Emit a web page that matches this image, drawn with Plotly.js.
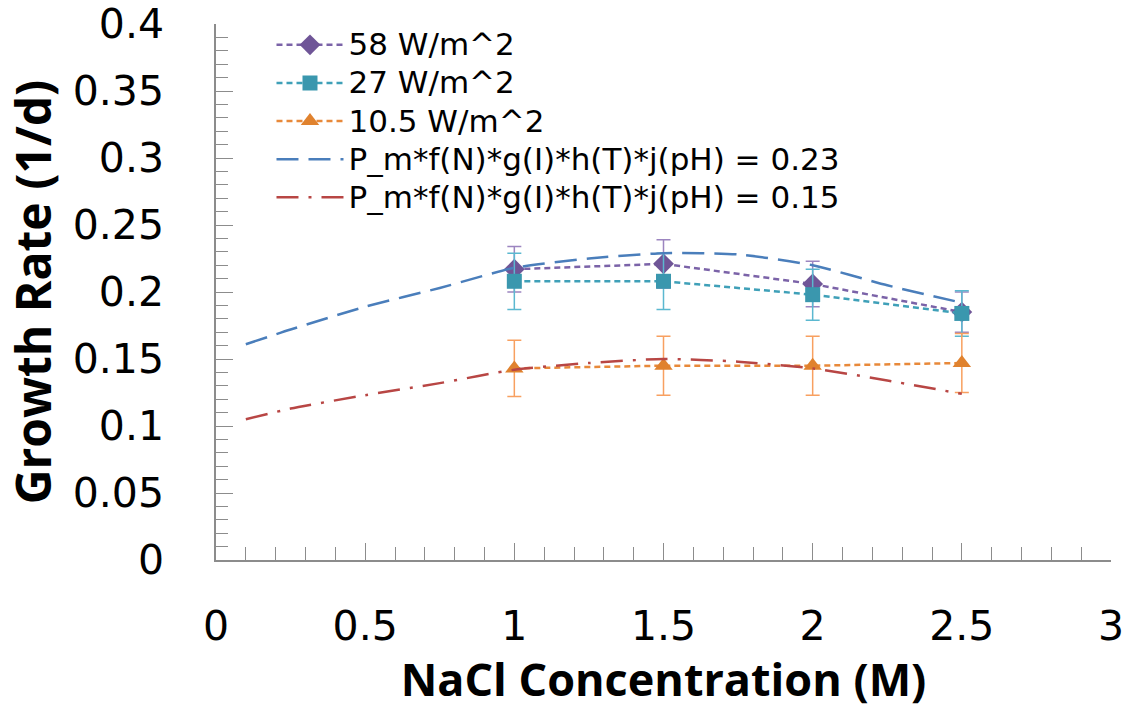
<!DOCTYPE html>
<html>
<head>
<meta charset="utf-8">
<script src="https://cdn.plot.ly/plotly-3.0.1.min.js"></script>
<style>html,body{margin:0;padding:0;background:#fff;}#chart{width:1128px;height:709px;}</style>
</head>
<body>
<div id="chart"></div>
<script>
// Measured data
const nacl = [1, 1.5, 2, 2.5];
const rate58 = [0.217, 0.221, 0.206, 0.185];
const err58 = [0.017, 0.018, 0.017, 0.015];
const rate27 = [0.208, 0.208, 0.198, 0.184];
const err27 = [0.021, 0.021, 0.019, 0.017];
const rate105 = [0.143, 0.145, 0.145, 0.147];
const err105 = [0.021, 0.022, 0.022, 0.022];

// Model curves
const modelX = [0.1, 0.25, 0.5, 0.75, 1.0, 1.25, 1.5, 1.75, 2.0, 2.25, 2.5];
const modelHigh = [0.161, 0.172, 0.189, 0.203, 0.218, 0.225, 0.229, 0.228, 0.220, 0.205, 0.192];
const modelLow = [0.105, 0.113, 0.123, 0.132, 0.142, 0.147, 0.150, 0.148, 0.143, 0.134, 0.124];

const names = ["58 W/m^2", "27 W/m^2", "10.5 W/m^2",
  "P_m*f(N)*g(I)*h(T)*j(pH) = 0.23", "P_m*f(N)*g(I)*h(T)*j(pH) = 0.15"];

const xTicks = [0, 0.5, 1, 1.5, 2, 2.5, 3];
const xTickText = ["0", "0.5", "1", "1.5", "2", "2.5", "3"];
const yTicks = [0, 0.05, 0.1, 0.15, 0.2, 0.25, 0.3, 0.35, 0.4];
const yTickText = ["0", "0.05", "0.1", "0.15", "0.2", "0.25", "0.3", "0.35", "0.4"];

const FONT = "Open Sans, Noto Sans, sans-serif";
const TFONT = "DejaVu Sans, sans-serif";
const big = s => '<span style="font-size:31px">' + s + '</span>';

function series(y, err, name, lineColor, markerColor, symbol, size, errColor) {
  return {
    x: nacl, y: y, name: big(name), type: 'scatter', mode: 'lines+markers',
    line: {color: lineColor, width: 2.5, dash: '6px,4px'},
    marker: {color: markerColor, symbol: symbol, size: size},
    error_y: {type: 'data', array: err, visible: true, color: errColor, thickness: 1.5, width: 7}
  };
}

const traces = [
  series(rate58, err58, names[0], '#7B63A8', '#6F5597', 'diamond', 16, '#9C85C0'),
  series(rate27, err27, names[1], '#3FA0B8', '#3A97AE', 'square', 15, '#5BB8D0'),
  series(rate105, err105, names[2], '#E8893A', '#E0822E', 'triangle-up', 16, '#F8A060'),
  {x: modelX, y: modelHigh, name: big(names[3]), type: 'scatter', mode: 'lines',
   line: {color: '#4A7EBB', width: 2.5, dash: '22px,10px', shape: 'spline', smoothing: 0.6}},
  {x: modelX, y: modelLow, name: big(names[4]), type: 'scatter', mode: 'lines',
   line: {color: '#B84644', width: 2.5, dash: '22px,10px,3px,10px', shape: 'spline', smoothing: 0.6}}
];

const layout = {
  width: 1128, height: 709,
  margin: {l: 216, r: 17, t: 24, b: 149},
  paper_bgcolor: '#fff', plot_bgcolor: '#fff',
  font: {family: FONT, color: '#000'},
  showlegend: true,
  legend: {x: 0.062, y: 1.006, xanchor: 'left', yanchor: 'top', bgcolor: 'rgba(0,0,0,0)',
           font: {family: TFONT, size: 27, color: '#000'}, itemwidth: 67, tracegroupgap: 0},
  xaxis: {
    range: [0, 3], tickvals: xTicks, ticktext: xTickText,
    showgrid: false, zeroline: false, showline: true, linecolor: '#8c8c8c', linewidth: 1.5,
    ticks: 'inside', ticklen: 17, tickcolor: '#8c8c8c', tickwidth: 1.2,
    minor: {dtick: 0.1, ticks: 'inside', ticklen: 13, tickcolor: '#8c8c8c', tickwidth: 1.2, showgrid: false},
    tickfont: {family: TFONT, size: 41, color: '#000'}, ticklabelstandoff: 29, ticklabeloverflow: 'allow',
    title: {text: 'NaCl Concentration (M)', font: {family: FONT, size: 45, color: '#000', weight: 'bold'}, standoff: 4}
  },
  yaxis: {
    range: [0, 0.4], tickvals: yTicks, ticktext: yTickText,
    showgrid: false, zeroline: false, showline: true, linecolor: '#8c8c8c', linewidth: 1.5,
    ticks: 'inside', ticklen: 17, tickcolor: '#8c8c8c', tickwidth: 1.2,
    minor: {dtick: 0.01, ticks: 'inside', ticklen: 12, tickcolor: '#8c8c8c', tickwidth: 1.2, showgrid: false},
    tickfont: {family: TFONT, size: 41, color: '#000'}, ticklabelstandoff: 42, ticklabeloverflow: 'allow',
    title: {text: 'Growth Rate (1/d)', font: {family: FONT, size: 48, color: '#000', weight: 'bold'}, standoff: 12}
  }
};

Plotly.newPlot('chart', traces, layout, {displayModeBar: false});
</script>
</body>
</html>
